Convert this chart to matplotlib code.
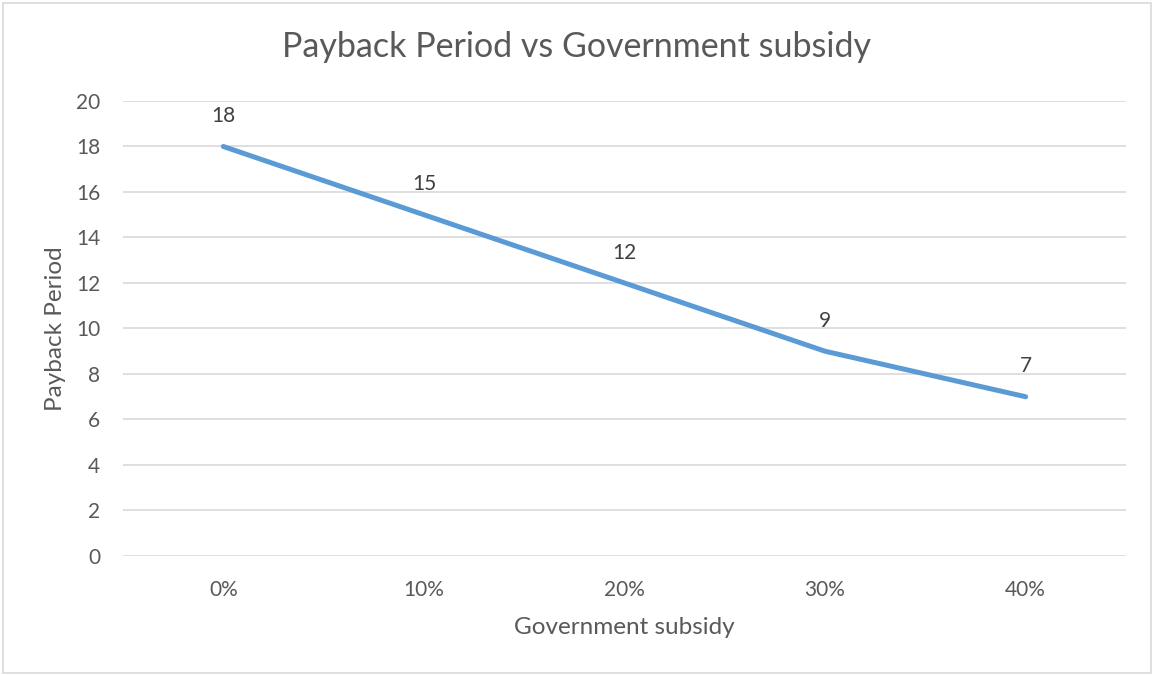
import matplotlib.pyplot as plt
from matplotlib.patches import Rectangle

# Payback period for each subsidy level
subsidy = ['0%', '10%', '20%', '30%', '40%']
payback = [18, 15, 12, 9, 7]

plt.rcParams['font.family'] = ['Lato', 'DejaVu Sans']
grey = '#595959'

fig = plt.figure(figsize=(11.54, 6.75), dpi=100)
ax = fig.add_axes([0.1066, 0.1763, 0.8691, 0.6741])

x = range(len(subsidy))
ax.plot(x, payback, color='#5B9BD5', linewidth=3.6, solid_capstyle='round',
        solid_joinstyle='round', zorder=3)

# Value labels above each point
for xi, yi in zip(x, payback):
    ax.annotate(str(yi), (xi, yi), xytext=(0, 17.5), textcoords='offset points',
                ha='center', va='baseline', fontsize=15, color='#404040')

ax.set_xlim(-0.5, len(subsidy) - 0.5)
ax.set_ylim(0, 20)
ax.set_yticks(range(0, 21, 2))
ax.set_xticks(list(x))
ax.set_xticklabels(subsidy)
ax.grid(axis='y', color='#D9D9D9', linewidth=1.2)
ax.set_axisbelow(True)
for side in ['top', 'right', 'left', 'bottom']:
    ax.spines[side].set_visible(False)
ax.tick_params(length=0, labelsize=15, labelcolor=grey)
ax.tick_params(axis='x', pad=17)
ax.tick_params(axis='y', pad=16.5)

fig.text(0.5, 1 - 47 / 675, 'Payback Period vs Government subsidy', fontsize=24.5,
         color=grey, ha='center', va='center')
fig.text(0.1066 + 0.8691 / 2, 1 - 627 / 675, 'Government subsidy', fontsize=17.5,
         color=grey, ha='center', va='center')
fig.text(55 / 1154, 0.1763 + 0.6741 / 2, 'Payback Period', fontsize=17.5,
         color=grey, ha='center', va='center', rotation=90)

# Light frame around the chart area
fig.patches.append(Rectangle((3 / 1154, 2 / 675), 1148 / 1154, 670 / 675,
                             transform=fig.transFigure, fill=False,
                             edgecolor='#D9D9D9', linewidth=1.2))

plt.savefig('out.png', dpi=100)
